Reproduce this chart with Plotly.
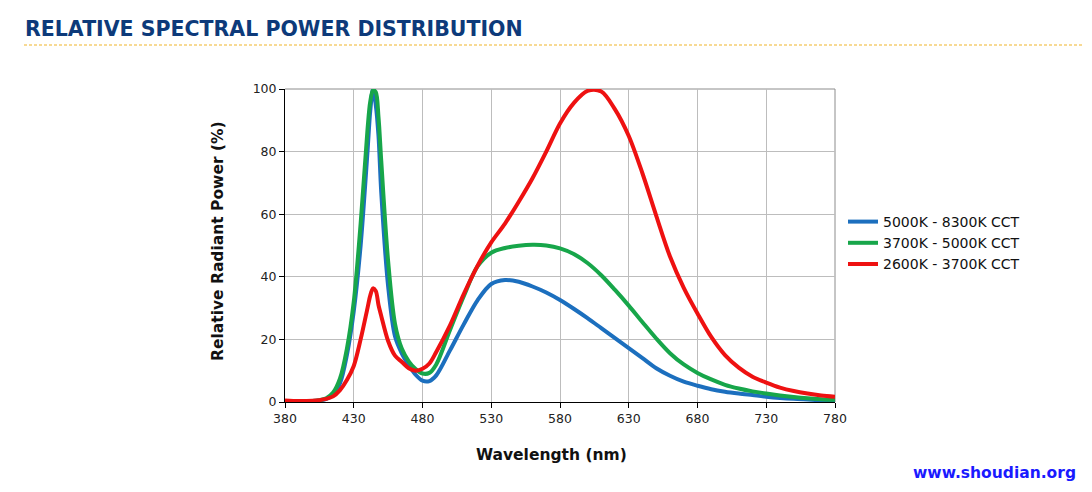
import plotly.graph_objects as go

wavelength = [380, 390, 400, 405, 410, 415, 420, 425, 430, 435, 440, 442, 444, 446, 448,
              450, 455, 460, 465, 470, 475, 480, 485, 490, 500, 510, 520, 530, 540, 550,
              560, 570, 580, 590, 600, 610, 620, 630, 640, 650, 660, 670, 680, 690,
              700, 710, 720, 730, 740, 750, 760, 770, 780]

cool_5000_8300 = [0.3, 0.2, 0.3, 0.5, 1.0, 2.4, 6, 15, 29, 50, 80, 93, 100, 95, 85,
                  67, 37, 21, 15.5, 11.8, 8.7, 6.8, 6.7, 8.5, 16.5, 24.8, 32.5, 37.7, 39, 38.4,
                  36.9, 35.0, 32.6, 29.8, 26.8, 23.6, 20.4, 17.2, 14.0, 10.8, 8.4, 6.5, 5.2, 4.1,
                  3.3, 2.7, 2.2, 1.7, 1.3, 1.0, 0.8, 0.6, 0.5]

neutral_3700_5000 = [0.2, 0.2, 0.3, 0.6, 1.2, 3, 7.5, 17, 32, 57, 87, 96, 99.6, 99, 91,
                     77, 45, 25, 17, 13, 10.5, 9.1, 9.3, 12, 23, 33.8, 43.3, 47.7, 49.2, 49.9,
                     50.2, 50.0, 49.1, 47.3, 44.4, 40.5, 35.8, 30.8, 25.5, 20.3, 15.6, 12.0, 9.3, 7.2,
                     5.5, 4.3, 3.4, 2.7, 2.1, 1.6, 1.2, 0.9, 0.7]

warm_2600_3700 = [0.5, 0.3, 0.4, 0.6, 1.0, 1.8, 3.8, 7, 11.5, 20, 30, 34, 36.3, 35.5, 31,
                  27.5, 19.5, 14.8, 12.8, 10.8, 10.0, 10.6, 12.3, 16, 24.5, 34.5, 43.5, 51, 57, 64,
                  71.5, 80, 89, 95.5, 99.4, 99.2, 93.5, 85, 73, 59.5, 46.5, 36.5, 28.3, 20.8,
                  15, 11, 8.1, 6.2, 4.6, 3.5, 2.7, 2.1, 1.7]

series_names = ["5000K - 8300K CCT", "3700K - 5000K CCT", "2600K - 3700K CCT"]
series_values = [cool_5000_8300, neutral_3700_5000, warm_2600_3700]
series_colors = ["#1c6fbe", "#17a64a", "#ee1111"]

x_ticks = [380, 430, 480, 530, 580, 630, 680, 730, 780]
y_ticks = [0, 20, 40, 60, 80, 100]

FONT = "DejaVu Sans, Verdana, sans-serif"

# the page body adds an 8px margin; positions below are given in screen pixels
OFF = 8
W, H = 1076, 476
L, R, T, B = 285 - OFF, 835 - OFF, 89 - OFF, 402 - OFF


def px_x(p):
    return (p - OFF - L) / (R - L)


def px_y(p):
    return (B - (p - OFF)) / (B - T)


fig = go.Figure()
for name, vals, col in zip(series_names, series_values, series_colors):
    fig.add_trace(go.Scatter(
        x=wavelength, y=vals, mode="lines", name=name,
        line=dict(color=col, width=4, shape="spline", smoothing=0.9),
    ))

fig.update_layout(
    width=W, height=H,
    margin=dict(l=L, r=W - R, t=T, b=H - B, pad=0),
    paper_bgcolor="white", plot_bgcolor="white",
    font=dict(family=FONT, size=12, color="#222222"),
    showlegend=True,
    legend=dict(
        x=px_x(843), y=px_y(243), xanchor="left", yanchor="middle",
        font=dict(family=FONT, size=14, color="#111111"),
        bgcolor="rgba(0,0,0,0)", tracegroupgap=0, itemwidth=30,
    ),
    xaxis=dict(
        range=[380, 780], tickvals=x_ticks, ticktext=[str(v) for v in x_ticks],
        showgrid=True, gridcolor="#bdbdbd", gridwidth=1,
        showline=True, linecolor="black", linewidth=1,
        ticks="outside", ticklen=5, tickcolor="black",
        tickfont=dict(family=FONT, size=12.5, color="#222222"),
        zeroline=False, fixedrange=True,
    ),
    yaxis=dict(
        range=[0, 100], tickvals=y_ticks, ticktext=[str(v) for v in y_ticks],
        showgrid=True, gridcolor="#bdbdbd", gridwidth=1,
        showline=True, linecolor="black", linewidth=1,
        ticks="outside", ticklen=5, tickcolor="black",
        tickfont=dict(family=FONT, size=12.5, color="#222222"),
        zeroline=False, fixedrange=True,
    ),
    shapes=[
        dict(type="line", xref="paper", yref="paper", x0=0, x1=1, y0=1, y1=1,
             line=dict(color="#8c8c8c", width=1), layer="below"),
        dict(type="line", xref="paper", yref="paper", x0=1, x1=1, y0=0, y1=1,
             line=dict(color="#8c8c8c", width=1), layer="below"),
        dict(type="line", xref="paper", yref="paper",
             x0=px_x(24), x1=px_x(1092), y0=px_y(45), y1=px_y(45),
             line=dict(color="#f0b429", width=1, dash="3px,2px")),
    ],
    annotations=[
        dict(text="<b>RELATIVE SPECTRAL POWER DISTRIBUTION</b>", xref="paper", yref="paper",
             x=px_x(23), y=px_y(29), xanchor="left", yanchor="middle", showarrow=False,
             font=dict(family=FONT, size=20.5, color="#0d3a7a")),
        dict(text="<b>Relative Radiant Power (%)</b>", xref="paper", yref="paper",
             x=px_x(218), y=px_y(241), xanchor="center", yanchor="middle", showarrow=False,
             textangle=-90, font=dict(family=FONT, size=15.5, color="#111111")),
        dict(text="<b>Wavelength (nm)</b>", xref="paper", yref="paper",
             x=px_x(551), y=px_y(455), xanchor="center", yanchor="middle", showarrow=False,
             font=dict(family=FONT, size=15.5, color="#111111")),
        dict(text="<b>www.shoudian.org</b>", xref="paper", yref="paper",
             x=px_x(1078), y=px_y(473), xanchor="right", yanchor="middle", showarrow=False,
             font=dict(family=FONT, size=15.5, color="#1a1aff")),
    ],
)

fig.write_html("out.html")
